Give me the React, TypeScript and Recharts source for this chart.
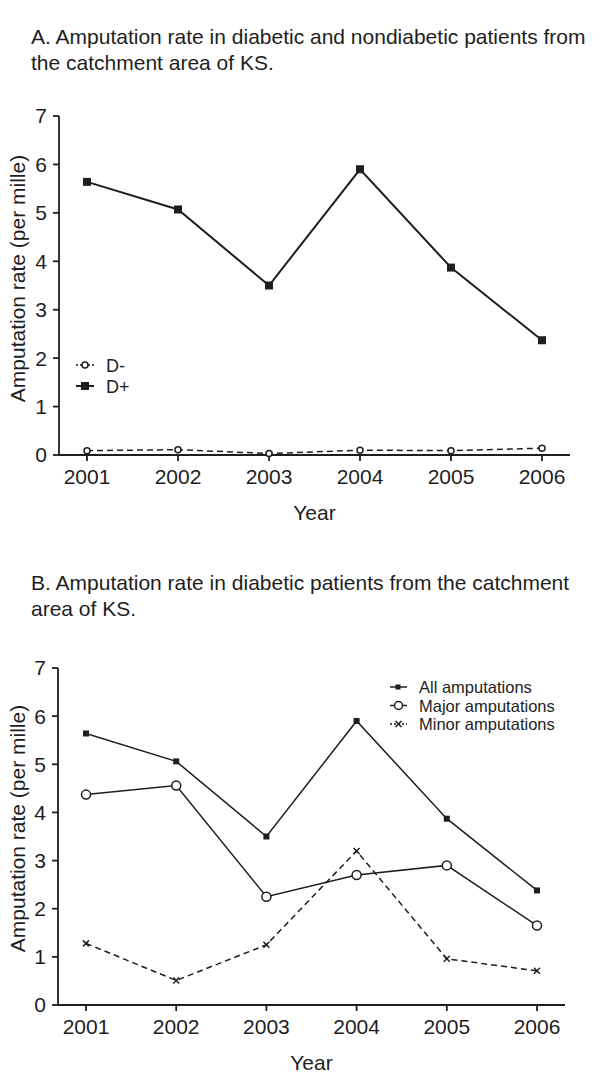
import React from 'react';
import { LineChart, Line, XAxis, YAxis, Legend } from 'recharts';

const years = ['2001', '2002', '2003', '2004', '2005', '2006'];
const yTicks = [0, 1, 2, 3, 4, 5, 6, 7];

// Panel A
const dMinus = [0.09, 0.11, 0.03, 0.1, 0.09, 0.14];
const dPlus = [5.64, 5.07, 3.5, 5.9, 3.87, 2.37];

// Panel B
const allAmp = [5.64, 5.06, 3.5, 5.9, 3.87, 2.38];
const majorAmp = [4.37, 4.56, 2.25, 2.7, 2.9, 1.65];
const minorAmp = [1.28, 0.51, 1.25, 3.2, 0.96, 0.71];

const dataA = years.map((y, i) => ({ year: y, dMinus: dMinus[i], dPlus: dPlus[i] }));
const dataB = years.map((y, i) => ({ year: y, all: allAmp[i], major: majorAmp[i], minor: minorAmp[i] }));

const FONT = '"Liberation Sans", Arial, Helvetica, sans-serif';
const INK = '#1e1e1e';

const SquareDot = (size: number) => (props: any) => {
  const { cx, cy, index } = props;
  if (cx == null || cy == null) return <g key={`s-${index}`} />;
  return <rect key={`s-${index}`} x={cx - size / 2} y={cy - size / 2} width={size} height={size} fill={INK} />;
};

const CircleDot = (r: number) => (props: any) => {
  const { cx, cy, index } = props;
  if (cx == null || cy == null) return <g key={`c-${index}`} />;
  return <circle key={`c-${index}`} cx={cx} cy={cy} r={r} fill="#fff" stroke={INK} strokeWidth={1.5} />;
};

const CrossDot = (h: number) => (props: any) => {
  const { cx, cy, index } = props;
  if (cx == null || cy == null) return <g key={`x-${index}`} />;
  return (
    <g key={`x-${index}`} stroke={INK} strokeWidth={1.5}>
      <line x1={cx - h} y1={cy - h} x2={cx + h} y2={cy + h} />
      <line x1={cx - h} y1={cy + h} x2={cx + h} y2={cy - h} />
    </g>
  );
};

const makeYLabel = (cyShift: number) => (props: any) => {
  const vb = props.viewBox || {};
  const cy = (vb.y ?? 0) + (vb.height ?? 0) / 2 + cyShift;
  const x = 24.5;
  return (
    <text x={x} y={cy} transform={`rotate(-90, ${x}, ${cy})`} textAnchor="middle" fontSize={21} fill={INK} fontFamily={FONT}>
      Amputation rate (per mille)
    </text>
  );
};

const XLabel = (props: any) => {
  const vb = props.viewBox || {};
  const cx = (vb.x ?? 0) + (vb.width ?? 0) / 2;
  return (
    <text x={cx} y={(vb.y ?? 0) + 65} textAnchor="middle" fontSize={21} fill={INK} fontFamily={FONT}>
      Year
    </text>
  );
};

const legendTextA = { fontSize: 18, fill: INK, fontFamily: FONT };
const legendTextB = { fontSize: 16.5, fill: INK, fontFamily: FONT };

const LegendA = () => (
  <svg width={600} height={545} style={{ position: 'absolute', left: 0, top: 0, overflow: 'visible', pointerEvents: 'none' }}>
    <line x1={76} x2={94} y1={365} y2={365} stroke={INK} strokeWidth={1.5} strokeDasharray="2 2" />
    <circle cx={85} cy={365} r={3} fill="#fff" stroke={INK} strokeWidth={1.5} />
    <text x={106} y={371.5} {...legendTextA}>D-</text>
    <line x1={76} x2={94} y1={386} y2={386} stroke={INK} strokeWidth={2} />
    <rect x={81} y={382} width={8} height={8} fill={INK} />
    <text x={106} y={392.5} {...legendTextA}>D+</text>
  </svg>
);

const rowsB = [137, 155.5, 174];

const LegendB = () => (
  <svg width={600} height={542} style={{ position: 'absolute', left: 0, top: 0, overflow: 'visible', pointerEvents: 'none' }}>
    <line x1={390} x2={407} y1={rowsB[0]} y2={rowsB[0]} stroke={INK} strokeWidth={1.5} />
    <rect x={395.5} y={rowsB[0] - 2.5} width={5} height={5} fill={INK} />
    <text x={419} y={rowsB[0] + 6} {...legendTextB}>All amputations</text>
    <line x1={390} x2={407} y1={rowsB[1]} y2={rowsB[1]} stroke={INK} strokeWidth={1.5} />
    <circle cx={398.5} cy={rowsB[1]} r={4} fill="#fff" stroke={INK} strokeWidth={1.5} />
    <text x={419} y={rowsB[1] + 6} {...legendTextB}>Major amputations</text>
    <line x1={390} x2={407} y1={rowsB[2]} y2={rowsB[2]} stroke={INK} strokeWidth={1.5} strokeDasharray="2 2" />
    <g stroke={INK} strokeWidth={1.5}>
      <line x1={395.5} y1={rowsB[2] - 3} x2={401.5} y2={rowsB[2] + 3} />
      <line x1={395.5} y1={rowsB[2] + 3} x2={401.5} y2={rowsB[2] - 3} />
    </g>
    <text x={419} y={rowsB[2] + 6} {...legendTextB}>Minor amputations</text>
  </svg>
);

const tickStyle = { fontSize: 21, fill: INK, fontFamily: FONT };
const legendWrap = { position: 'absolute' as const, left: 0, top: 0, width: 0, height: 0, overflow: 'visible' as const };

const titleStyle: React.CSSProperties = {
  position: 'absolute',
  left: 31,
  fontFamily: FONT,
  fontSize: 21,
  lineHeight: '26px',
  color: INK,
  whiteSpace: 'nowrap',
};

export default function App() {
  return (
    <div style={{ position: 'absolute', left: 0, top: 0, width: 600, height: 1092, background: '#fff', fontFamily: FONT }}>
      <div style={{ ...titleStyle, top: 24 }}>
        A. Amputation rate in diabetic and nondiabetic patients from
        <br />
        the catchment area of KS.
      </div>
      <div style={{ position: 'absolute', left: 0, top: 0 }}>
        <LineChart width={600} height={545} data={dataA} margin={{ top: 116, right: 30, bottom: 24, left: 0 }}>
          <XAxis
            dataKey="year"
            type="category"
            padding={{ left: 28, right: 28 }}
            height={66}
            tick={tickStyle}
            tickSize={6}
            tickMargin={8}
            stroke={INK}
            strokeWidth={1.8}
            label={{ content: XLabel }}
          />
          <YAxis
            domain={[0, 7]}
            ticks={yTicks}
            interval={0}
            width={59}
            tick={tickStyle}
            tickSize={6}
            tickMargin={6}
            stroke={INK}
            strokeWidth={1.8}
            label={{ content: makeYLabel(-7) }}
          />
          <Legend content={LegendA} wrapperStyle={legendWrap} />
          <Line dataKey="dMinus" stroke={INK} strokeWidth={1.5} strokeDasharray="6 4" dot={CircleDot(3)} activeDot={false} isAnimationActive={false} />
          <Line dataKey="dPlus" stroke={INK} strokeWidth={2} dot={SquareDot(8)} activeDot={false} isAnimationActive={false} />
        </LineChart>
      </div>

      <div style={{ ...titleStyle, top: 570 }}>
        B. Amputation rate in diabetic patients from the catchment
        <br />
        area of KS.
      </div>
      <div style={{ position: 'absolute', left: 0, top: 550 }}>
        <LineChart width={600} height={542} data={dataB} margin={{ top: 118, right: 35, bottom: 21, left: 0 }}>
          <XAxis
            dataKey="year"
            type="category"
            padding={{ left: 28, right: 28 }}
            height={66}
            tick={tickStyle}
            tickSize={6}
            tickMargin={8}
            stroke={INK}
            strokeWidth={1.8}
            label={{ content: XLabel }}
          />
          <YAxis
            domain={[0, 7]}
            ticks={yTicks}
            interval={0}
            width={58}
            tick={tickStyle}
            tickSize={6}
            tickMargin={6}
            stroke={INK}
            strokeWidth={1.8}
            label={{ content: makeYLabel(-8) }}
          />
          <Legend content={LegendB} wrapperStyle={legendWrap} />
          <Line dataKey="all" stroke={INK} strokeWidth={1.5} dot={SquareDot(6)} activeDot={false} isAnimationActive={false} />
          <Line dataKey="major" stroke={INK} strokeWidth={1.5} dot={CircleDot(4.5)} activeDot={false} isAnimationActive={false} />
          <Line dataKey="minor" stroke={INK} strokeWidth={1.5} strokeDasharray="6 4" dot={CrossDot(3)} activeDot={false} isAnimationActive={false} />
        </LineChart>
      </div>
    </div>
  );
}
